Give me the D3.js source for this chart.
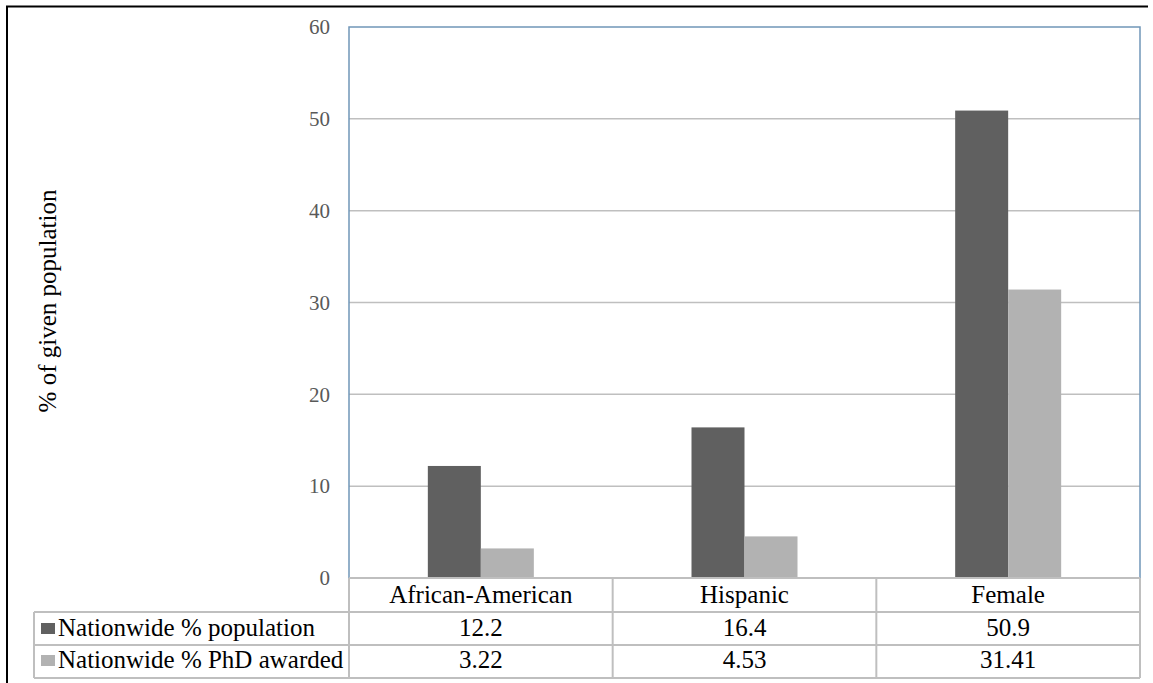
<!DOCTYPE html>
<html><head>
<script src="https://cdn.jsdelivr.net/npm/d3@7"></script>
<style>body{margin:0;background:#fff}svg{display:block}</style>
</head><body>
<script>
const categories = ["African-American", "Hispanic", "Female"];
const seriesNames = ["Nationwide % population", "Nationwide % PhD awarded"];
const population = [12.2, 16.4, 50.9];
const phd = [3.22, 4.53, 31.41];
const phdLabels = ["3.22", "4.53", "31.41"];
const popLabels = ["12.2", "16.4", "50.9"];
const yTicks = [0, 10, 20, 30, 40, 50, 60];
const colors = ["#606060", "#B2B2B2"];

const W = 1153, H = 683;
const FONT = '"Liberation Serif"';
const svg = d3.select("body").append("svg").attr("width", W).attr("height", H)
  .attr("font-family", "Liberation Serif");

function serif(sel, size) {
  return sel.attr("font-family", "Liberation Serif").style("font-family", FONT).style("font-size", size + "px");
}

// outer frame (top & left visible)
svg.append("line").attr("x1", 6).attr("x2", 1148).attr("y1", 6.5).attr("y2", 6.5).attr("stroke", "#000").attr("stroke-width", 2);
svg.append("line").attr("x1", 7).attr("x2", 7).attr("y1", 6).attr("y2", H).attr("stroke", "#000").attr("stroke-width", 2);

const L = 349, R = 1140, T = 27, B = 578;
const x = d3.scaleBand().domain(categories).range([L, R]);
const y = d3.scaleLinear().domain([0, 60]).range([B, T]);
const series = [population, phd];
const xs = d3.scaleBand().domain([0, 1]).range([0, 106]);

// gridlines
svg.append("g").selectAll("line").data(yTicks.filter(d => d > 0 && d < 60)).join("line")
  .attr("x1", L).attr("x2", R).attr("y1", d => y(d)).attr("y2", d => y(d))
  .attr("stroke", "#BFBFBF").attr("stroke-width", 1.5);

// bars
series.forEach((vals, si) => {
  svg.append("g").selectAll("rect").data(categories).join("rect")
    .attr("x", c => x(c) + (x.bandwidth() - 106) / 2 + xs(si))
    .attr("width", xs.bandwidth())
    .attr("y", (c, i) => y(vals[i]))
    .attr("height", (c, i) => B - y(vals[i]))
    .attr("fill", colors[si]);
});

// plot border
svg.append("rect").attr("x", L).attr("y", T).attr("width", R - L).attr("height", B - T)
  .attr("fill", "none").attr("stroke", "#7096B8").attr("stroke-width", 1.5);

// y axis labels
const yAxis = d3.axisLeft(y).tickValues(yTicks).tickSize(0).tickPadding(19);
const ya = svg.append("g").attr("transform", `translate(${L},0)`).call(yAxis);
ya.attr("font-family", "Liberation Serif");
ya.select(".domain").remove();
serif(ya.selectAll("text"), 21).attr("fill", "#595959");

// y title
serif(svg.append("text").attr("transform", "translate(56,301) rotate(-90)")
  .attr("text-anchor", "middle"), 25)
  .attr("fill", "#000").text("% of given population");

// data table
const tl = 34;
const g = svg.append("g");
const gray = "#BFBFBF";
g.append("line").attr("x1", L).attr("x2", R).attr("y1", B).attr("y2", B).attr("stroke", gray).attr("stroke-width", 2);
[612, 645, 678].forEach(yy => g.append("line").attr("x1", tl).attr("x2", R).attr("y1", yy).attr("y2", yy).attr("stroke", gray).attr("stroke-width", 2));
g.append("line").attr("x1", tl).attr("x2", tl).attr("y1", 612).attr("y2", 678).attr("stroke", gray).attr("stroke-width", 2);
categories.forEach(c => {
  g.append("line").attr("x1", x(c)).attr("x2", x(c)).attr("y1", B).attr("y2", 678).attr("stroke", gray).attr("stroke-width", 2);
});
g.append("line").attr("x1", R).attr("x2", R).attr("y1", B).attr("y2", 678).attr("stroke", gray).attr("stroke-width", 2);

serif(g.selectAll("text.cat").data(categories).join("text").attr("class", "cat")
  .attr("x", c => x(c) + x.bandwidth() / 2).attr("y", 603)
  .attr("text-anchor", "middle"), 25).attr("fill", "#000").text(c => c);

const labelRows = [popLabels, phdLabels];
labelRows.forEach((labs, ri) => {
  const cy = ri === 0 ? 636 : 668;
  g.append("rect").attr("x", 41).attr("y", cy - 13).attr("width", 14).attr("height", 11).attr("fill", colors[ri]);
  serif(g.append("text").attr("x", 58).attr("y", cy), 25).attr("fill", "#000").text(seriesNames[ri]);
  serif(g.selectAll(null).data(categories).join("text")
    .attr("x", c => x(c) + x.bandwidth() / 2).attr("y", cy)
    .attr("text-anchor", "middle"), 25).attr("fill", "#000")
    .text((c, i) => labs[i]);
});
</script>
</body></html>
